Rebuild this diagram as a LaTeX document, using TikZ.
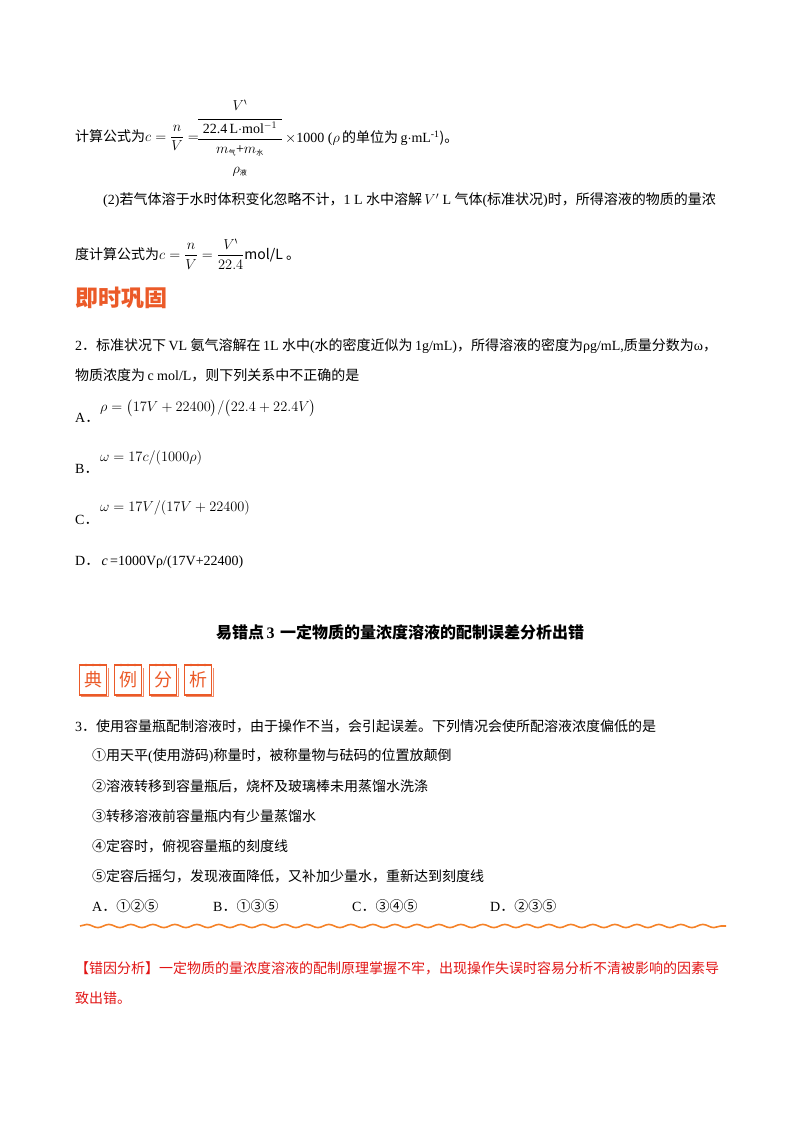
\documentclass[tikz,border=0pt]{standalone}
\usepackage{amsmath,amssymb}
\usepackage{fontspec}
\setmainfont{Liberation Serif}
\newfontfamily\cjk{Noto Sans CJK SC}
\usetikzlibrary{decorations.pathmorphing}
\definecolor{bannerorange}{RGB}{235,90,40}
\definecolor{waveorange}{RGB}{245,130,40}
\definecolor{errred}{RGB}{225,20,20}
\begin{document}
\begin{tikzpicture}[x=1pt,y=-1pt,
  txt/.style={anchor=west,inner sep=0pt,font=\fontsize{14}{16}\selectfont},
  ctr/.style={inner sep=0pt,font=\fontsize{14}{16}\selectfont},
  stamp/.style={draw=bannerorange,line width=1.1pt,minimum width=27pt,minimum height=30pt,inner sep=0pt,text=bannerorange,font=\fontsize{18}{20}\cjk\selectfont},
  ban/.style={anchor=west,inner sep=0pt,text=bannerorange,font=\fontsize{23}{24}\cjk\bfseries\selectfont}]
\useasboundingbox (0,0) rectangle (800,1132);
% formula 1
\node[txt] (f1) at (75,138) {\cjk 计算公式为$c=\dfrac{n}{V}=$};
\node[ctr] (fv) at (240,105) {$V^{\backprime}$};
\coordinate (b1l) at (198,119); \coordinate (b1r) at (282,119);
\draw[line width=0.6pt] (b1l) -- (b1r);
\node[ctr] (f22) at (240,128) {22.4\,L$\cdot$mol$^{-1}$};
\coordinate (b2l) at (198,139); \coordinate (b2r) at (282,139);
\draw[line width=0.6pt] (b2l) -- (b2r);
\node[ctr] (fm) at (240,151) {$m_{\text{\cjk\fontsize{7}{8}\selectfont 气}}$+$m_{\text{\cjk\fontsize{7}{8}\selectfont 水}}$};
\node[ctr] (fr) at (240,172) {$\rho_{\text{\cjk\fontsize{7}{8}\selectfont 液}}$};
\node[txt] (f1b) at (285,138) {$\times$1000 ($\rho$\,\cjk 的单位为\,\rmfamily g$\cdot$mL$^{\text{-1}}$\cjk )。};
% (2)
\node[txt] (p2) at (103,200) {(2)\cjk 若气体溶于水时体积变化忽略不计，\rmfamily 1 L \cjk 水中溶解\,\rmfamily $V'$ L \cjk 气体\rmfamily (\cjk 标准状况\rmfamily )\cjk 时，所得溶液的物质的量浓};
\node[txt] (p3) at (75,254) {\cjk 度计算公式为$c=\dfrac{n}{V}=\dfrac{V^{\backprime}}{22.4}$mol/L \cjk 。};
% banner 1
\node[ban] (bn1) at (75,298) {即时巩固};
% Q2
\node[txt] (q2a) at (75,346) {2{\cjk ．}\cjk 标准状况下\,\rmfamily VL \cjk 氨气溶解在\,\rmfamily 1L \cjk 水中\rmfamily (\cjk 水的密度近似为\,\rmfamily 1g/mL)\cjk ，所得溶液的密度为\rmfamily ρg/mL,\cjk 质量分数为\rmfamily ω\cjk ，};
\node[txt] (q2b) at (75,375) {\cjk 物质浓度为\,\rmfamily c mol/L\cjk ，则下列关系中不正确的是};
\node[txt] (oa) at (75,418) {A{\cjk ．}};
\node[txt] (oaf) at (100,408) {$\rho=\bigl(17V+22400\bigr)/\bigl(22.4+22.4V\bigr)$};
\node[txt] (ob) at (75,469) {B{\cjk ．}};
\node[txt] (obf) at (100,458) {$\omega=17c/(1000\rho)$};
\node[txt] (oc) at (75,520) {C{\cjk ．}};
\node[txt] (ocf) at (100,508) {$\omega=17V/(17V+22400)$};
\node[txt] (od) at (75,562) {D{\cjk ．}\,{\itshape c}\,=1000Vρ/(17V+22400)};
% heading
\node[ctr,font=\fontsize{16}{18}\selectfont] (hd) at (400,632) {\cjk\bfseries 易错点\rmfamily\bfseries\,3\,\,\cjk\bfseries 一定物质的量浓度溶液的配制误差分析出错};
% banner 2
\foreach \c/\x in {典/93,例/128,分/163,析/198}{
  \draw[bannerorange!70,line width=1pt] (\x-12,696) -- (\x+15,696) -- (\x+15,668);
  \node[stamp,fill=white] (s\c) at (\x,680) {\c};
  \foreach \d in {-7,0,7} \fill[bannerorange] (\x+\d,665) circle (1.4pt);
}
% Q3
\node[txt] (q3) at (75,726) {3{\cjk ．}\cjk 使用容量瓶配制溶液时，由于操作不当，会引起误差。下列情况会使所配溶液浓度偏低的是};
\node[txt] (i1) at (92,756) {\cjk ①用天平\rmfamily (\cjk 使用游码\rmfamily )\cjk 称量时，被称量物与砝码的位置放颠倒};
\node[txt] (i2) at (92,786) {\cjk ②溶液转移到容量瓶后，烧杯及玻璃棒未用蒸馏水洗涤};
\node[txt] (i3) at (92,816) {\cjk ③转移溶液前容量瓶内有少量蒸馏水};
\node[txt] (i4) at (92,846) {\cjk ④定容时，俯视容量瓶的刻度线};
\node[txt] (i5) at (92,876) {\cjk ⑤定容后摇匀，发现液面降低，又补加少量水，重新达到刻度线};
\node[txt] (ca) at (92,906) {A{\cjk ．}\cjk ①②⑤};
\node[txt] (cb) at (213,906) {B{\cjk ．}\cjk ①③⑤};
\node[txt] (cc) at (352,906) {C{\cjk ．}\cjk ③④⑤};
\node[txt] (cd) at (490,906) {D{\cjk ．}\cjk ②③⑤};
% wave
\coordinate (w0) at (80,926); \coordinate (w1) at (726,926);
\draw[waveorange,line width=1.6pt,decorate,decoration={snake,amplitude=1.6pt,segment length=22pt}] (w0) -- (w1);
% error analysis
\node[txt,text=errred] (e1) at (75,968) {\cjk 【错因分析】一定物质的量浓度溶液的配制原理掌握不牢，出现操作失误时容易分析不清被影响的因素导};
\node[txt,text=errred] (e2) at (75,998) {\cjk 致出错。};
\end{tikzpicture}
\end{document}
